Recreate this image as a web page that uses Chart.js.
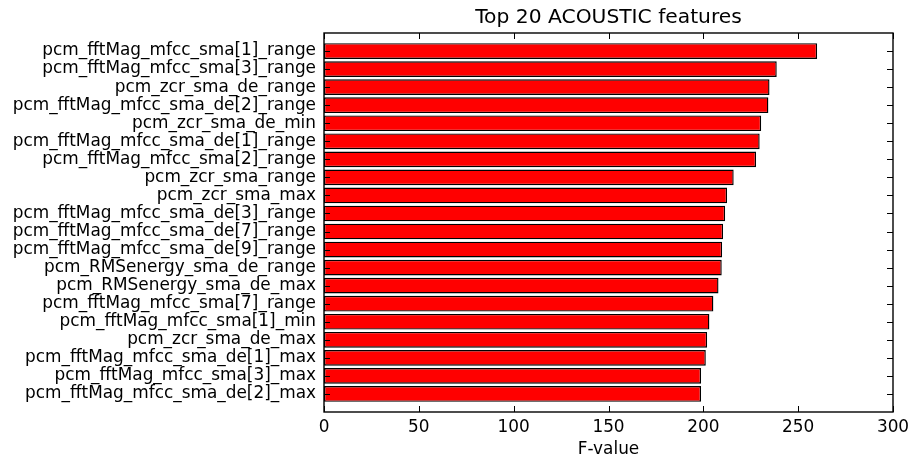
<!DOCTYPE html>
<html>
<head>
<meta charset="utf-8">
<script src="https://cdn.jsdelivr.net/npm/chart.js@4"></script>
<style>
  html, body { margin: 0; padding: 0; background: #fff; }
  #wrap { width: 909px; height: 464px; }
</style>
</head>
<body>
<div id="wrap"><canvas id="chart" width="909" height="464"></canvas></div>
<script>
// Feature names, ranked from highest to lowest F-value
const features = [
  'pcm_fftMag_mfcc_sma[1]_range',
  'pcm_fftMag_mfcc_sma[3]_range',
  'pcm_zcr_sma_de_range',
  'pcm_fftMag_mfcc_sma_de[2]_range',
  'pcm_zcr_sma_de_min',
  'pcm_fftMag_mfcc_sma_de[1]_range',
  'pcm_fftMag_mfcc_sma[2]_range',
  'pcm_zcr_sma_range',
  'pcm_zcr_sma_max',
  'pcm_fftMag_mfcc_sma_de[3]_range',
  'pcm_fftMag_mfcc_sma_de[7]_range',
  'pcm_fftMag_mfcc_sma_de[9]_range',
  'pcm_RMSenergy_sma_de_range',
  'pcm_RMSenergy_sma_de_max',
  'pcm_fftMag_mfcc_sma[7]_range',
  'pcm_fftMag_mfcc_sma[1]_min',
  'pcm_zcr_sma_de_max',
  'pcm_fftMag_mfcc_sma_de[1]_max',
  'pcm_fftMag_mfcc_sma[3]_max',
  'pcm_fftMag_mfcc_sma_de[2]_max'
];

// F-value of each feature
const fValues = [
  260.0, 238.7, 234.9, 234.3, 230.5,
  229.7, 227.8, 216.0, 212.5, 211.5,
  210.4, 209.9, 209.7, 208.0, 205.3,
  203.2, 202.0, 201.3, 198.8, 198.8
];

const xTickValues = [0, 50, 100, 150, 200, 250, 300];
const chartTitle = 'Top 20 ACOUSTIC features';
const xAxisTitle = 'F-value';

const FONT = 'DejaVu Sans';
const TICK_SIZE = 16.9;
const TITLE_SIZE = 20.25;

// Axes frame plus inward-pointing tick marks on all four sides
const frameTicks = {
  id: 'frameTicks',
  afterDatasetsDraw(chart) {
    const { ctx, chartArea: a, scales } = chart;
    const len = 6;
    ctx.save();
    ctx.strokeStyle = '#000';
    ctx.lineWidth = 1;
    ctx.beginPath();
    scales.x.ticks.forEach(t => {
      const px = Math.round(scales.x.getPixelForValue(t.value)) + 0.5;
      ctx.moveTo(px, a.bottom); ctx.lineTo(px, a.bottom - len);
      ctx.moveTo(px, a.top);    ctx.lineTo(px, a.top + len);
    });
    scales.y.ticks.forEach(t => {
      const py = Math.round(scales.y.getPixelForValue(t.value)) + 0.5;
      ctx.moveTo(a.left, py);  ctx.lineTo(a.left + len, py);
      ctx.moveTo(a.right, py); ctx.lineTo(a.right - len, py);
    });
    ctx.stroke();
    ctx.lineWidth = 1.4;
    ctx.strokeRect(a.left, a.top, a.right - a.left, a.bottom - a.top);
    ctx.restore();
  }
};

new Chart(document.getElementById('chart'), {
  type: 'bar',
  data: {
    datasets: [{
      data: fValues.map((v, i) => ({ x: v, y: i + 1 })),
      backgroundColor: '#ff0000',
      borderColor: '#000000',
      borderWidth: 1.4,
      borderSkipped: false,
      barPercentage: 0.87,
      categoryPercentage: 1.0
    }]
  },
  options: {
    indexAxis: 'y',
    responsive: false,
    devicePixelRatio: 1,
    animation: false,
    layout: { padding: { left: 0, right: 16, top: 0, bottom: 0 } },
    plugins: {
      legend: { display: false },
      tooltip: { enabled: false },
      title: { display: false }
    },
    scales: {
      x: {
        type: 'linear',
        position: 'bottom',
        min: 0,
        max: 300,
        afterBuildTicks: s => { s.ticks = xTickValues.map(v => ({ value: v })); },
        afterFit: s => { s.height = 52; s.paddingLeft = 0; s.paddingRight = 0; },
        grid: { display: false, drawTicks: false },
        border: { display: false },
        ticks: {
          color: '#000',
          padding: 5,
          maxRotation: 0,
          autoSkip: false,
          font: { family: FONT, size: TICK_SIZE }
        },
        title: {
          display: true,
          text: xAxisTitle,
          color: '#000',
          padding: { top: 4, bottom: 4 },
          font: { family: FONT, size: TICK_SIZE }
        }
      },
      xTop: {
        type: 'linear',
        position: 'top',
        min: 0,
        max: 300,
        afterFit: s => { s.height = 33; s.paddingLeft = 0; s.paddingRight = 0; },
        grid: { display: false, drawTicks: false },
        border: { display: false },
        ticks: { display: false },
        title: {
          display: true,
          text: chartTitle,
          color: '#000',
          padding: { top: 5.5, bottom: 0 },
          font: { family: FONT, size: TITLE_SIZE }
        }
      },
      y: {
        type: 'linear',
        position: 'left',
        reverse: true,
        offset: false,
        min: 0,
        max: 21,
        afterBuildTicks: s => { s.ticks = features.map((f, i) => ({ value: i + 1 })); },
        afterFit: s => { s.width = 324; s.paddingTop = 0; s.paddingBottom = 0; },
        grid: { display: false, drawTicks: false, offset: false },
        border: { display: false },
        ticks: {
          color: '#000',
          padding: 8,
          autoSkip: false,
          font: { family: FONT, size: TICK_SIZE },
          callback: v => features[Math.round(v) - 1] ?? ''
        }
      }
    }
  },
  plugins: [frameTicks]
});
</script>
</body>
</html>
